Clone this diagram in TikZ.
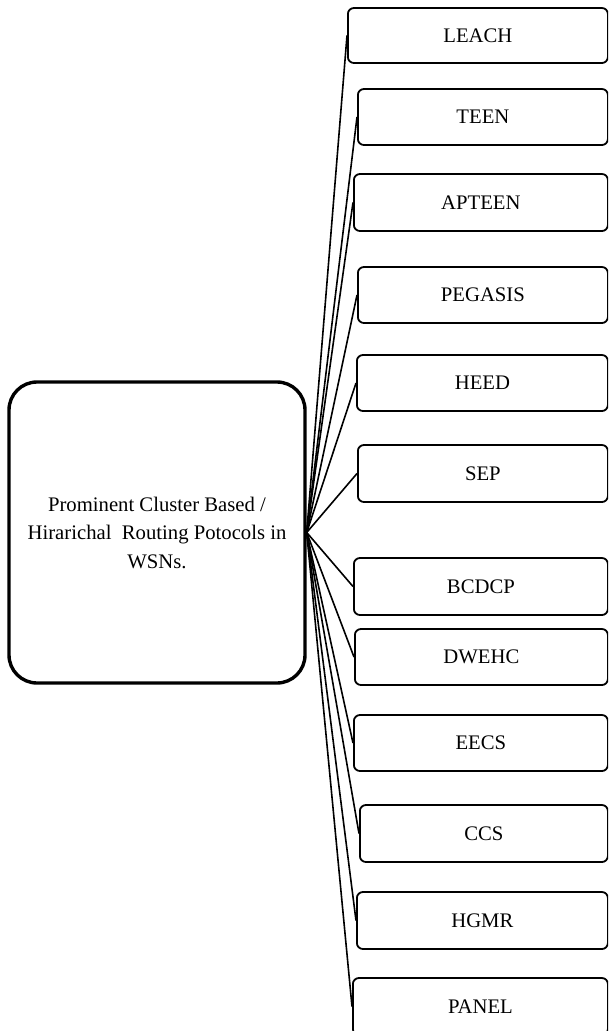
\documentclass[tikz,border=0pt]{standalone}
\usepackage{fontspec}
\setmainfont{Liberation Serif}
\usepackage{tikz}
\usetikzlibrary{positioning}
\tikzstyle{every protocol}=[draw=black,line width=1.8pt,rounded corners=6pt,minimum height=56pt,font=\fontsize{20.7}{24}\selectfont]
\tikzstyle{protocol}=[every protocol,anchor=west]
\tikzstyle{root}=[draw=black,line width=3.4pt,rounded corners=28pt,minimum width=296pt,minimum height=301pt,align=center,font=\fontsize{20.7}{28.5}\selectfont]
\tikzstyle{link}=[draw=black,line width=1.6pt]

\begin{document}
\begin{tikzpicture}[x=1pt,y=-1pt]
		\useasboundingbox (0,0) rectangle (608,1031);
		\clip (0,0) rectangle (608,1031);
		\node[root] (routing) at (157,532.5) {Prominent Cluster Based /\\Hirarichal\ \ Routing Potocols in\\WSNs.};

		\node[protocol,minimum width=260pt,minimum height=55pt] (leach) at (347,35.5) {LEACH};
		\node[protocol,minimum width=250pt] (teen) at (357,117) {TEEN};
		\node[protocol,minimum width=254pt,minimum height=57pt] (apteen) at (353,202.5) {APTEEN};
		\node[protocol,minimum width=250pt] (pegasis) at (357,295) {PEGASIS};
		\node[protocol,minimum width=251pt] (heed) at (356,383) {HEED};
		\node[protocol,minimum width=250pt,minimum height=57pt] (sep) at (357,473.5) {SEP};
		\node[protocol,minimum width=254pt,minimum height=57pt] (bcdcp) at (353,586.5) {BCDCP};
		\node[protocol,minimum width=253pt] (dwehc) at (354,657) {DWEHC};
		\node[protocol,minimum width=254pt] (eecs) at (353,743) {EECS};
		\node[protocol,minimum width=248pt,minimum height=57pt] (ccs) at (359,833.5) {CCS};
		\node[protocol,minimum width=251pt,minimum height=57pt] (hgmr) at (356,920.5) {HGMR};
		\node[protocol,minimum width=255pt,minimum height=57pt] (panel) at (352,1006.5) {PANEL};

		\draw[link] (routing.east) -- (leach.west);
		\draw[link] (routing.east) -- (teen.west);
		\draw[link] (routing.east) -- (apteen.west);
		\draw[link] (routing.east) -- (pegasis.west);
		\draw[link] (routing.east) -- (heed.west);
		\draw[link] (routing.east) -- (sep.west);
		\draw[link] (routing.east) -- (bcdcp.west);
		\draw[link] (routing.east) -- (dwehc.west);
		\draw[link] (routing.east) -- (eecs.west);
		\draw[link] (routing.east) -- (ccs.west);
		\draw[link] (routing.east) -- (hgmr.west);
		\draw[link] (routing.east) -- (panel.west);
	\end{tikzpicture}
\end{document}
